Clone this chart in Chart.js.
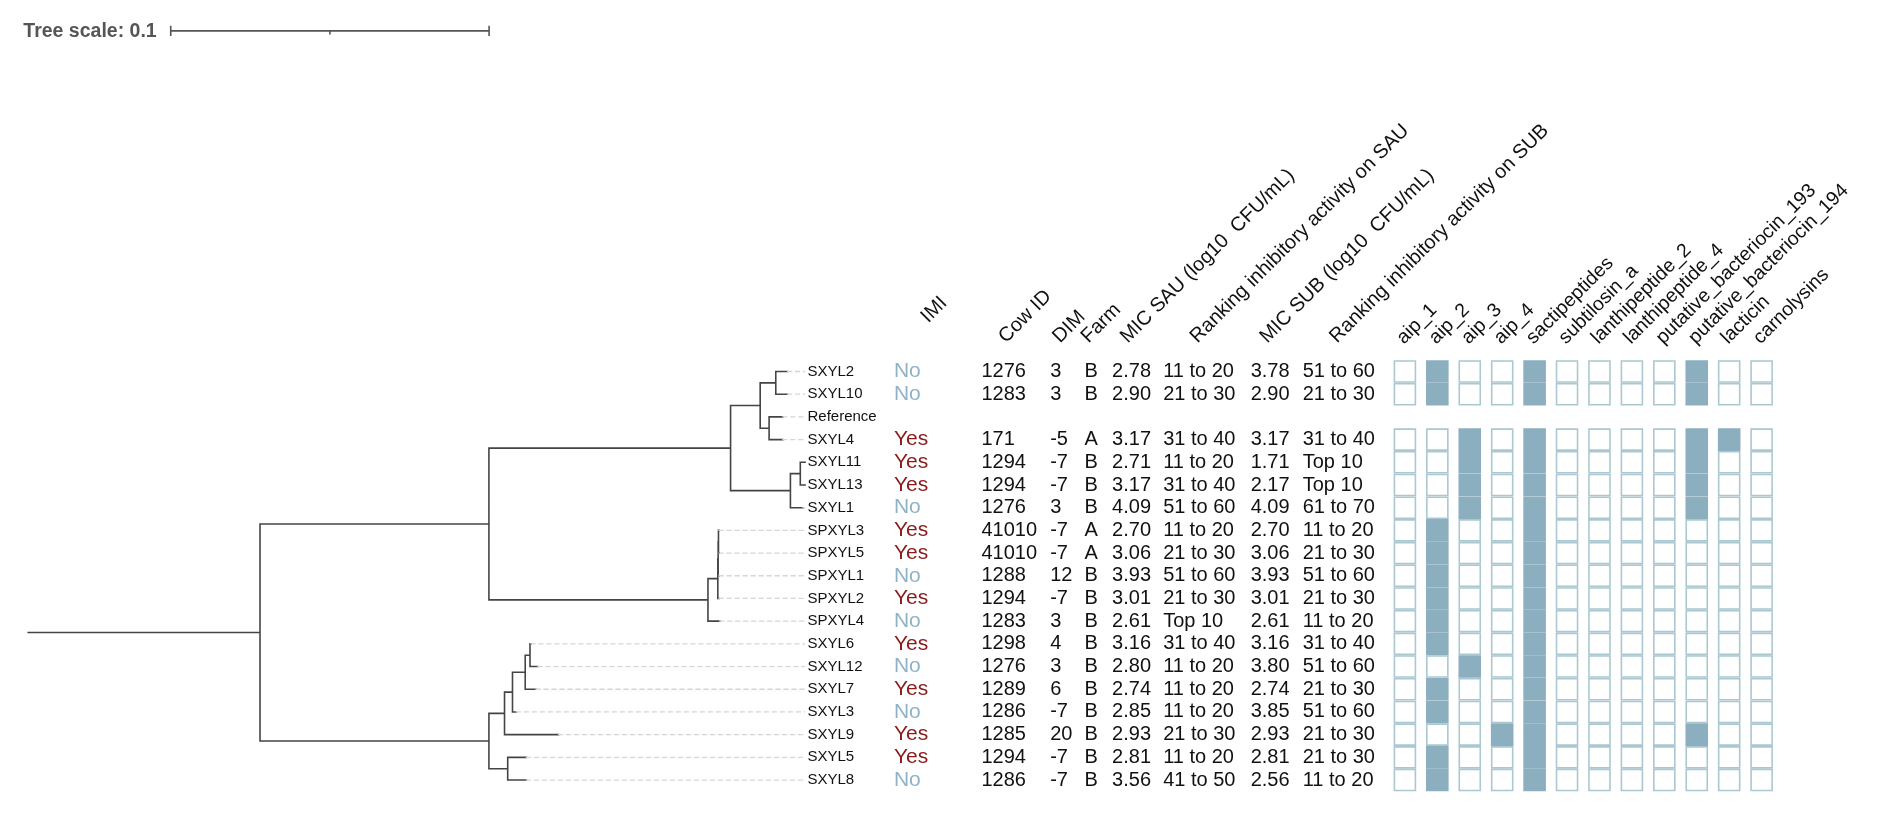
<!DOCTYPE html>
<html><head><meta charset="utf-8">
<script src="https://cdn.jsdelivr.net/npm/chart.js@4.4.0/dist/chart.umd.min.js"></script>
<style>html,body{margin:0;padding:0;background:#fff;overflow:hidden}canvas{display:block}</style>
</head><body>
<canvas id="c" width="1894" height="815"></canvas>
<script>
// ---------------- DATA ----------------
const treeNewick = "(((((SXYL2:0.0037,SXYL10:0.0037):0.0049,(Reference:0.0043,SXYL4:0.0043):0.0028):0.0093,((SXYL11:0.0015,SXYL13:0.0015):0.0031,SXYL1:0.0040):0.0188):0.0759,((((SPXYL3:0.0002,SPXYL5:0.0002):0.0001,SPXYL1:0.0003):0.0001,SPXYL2:0.0004):0.0031,SPXYL4:0.0037):0.0688):0.0719,(((((SXYL6:0.0003,SXYL12:0.0025):0.0015,SXYL7:0.0034):0.0040,SXYL3:0.0012):0.0025,SXYL9:0.0170):0.0049,(SXYL5:0.0059,SXYL8:0.0059):0.0059):0.0719):0.0728;";
const treeScaleValue = 0.1;
const treeScaleLabel = "Tree scale: 0.1";

const leafNames = ["SXYL2","SXYL10","Reference","SXYL4","SXYL11","SXYL13","SXYL1","SPXYL3","SPXYL5","SPXYL1","SPXYL2","SPXYL4","SXYL6","SXYL12","SXYL7","SXYL3","SXYL9","SXYL5","SXYL8"];
const imi     = ["No","No","","Yes","Yes","Yes","No","Yes","Yes","No","Yes","No","Yes","No","Yes","No","Yes","Yes","No"];
const cowId   = ["1276","1283","","171","1294","1294","1276","41010","41010","1288","1294","1283","1298","1276","1289","1286","1285","1294","1286"];
const dim     = ["3","3","","-5","-7","-7","3","-7","-7","12","-7","3","4","3","6","-7","20","-7","-7"];
const farm    = ["B","B","","A","B","B","B","A","A","B","B","B","B","B","B","B","B","B","B"];
const micSau  = ["2.78","2.90","","3.17","2.71","3.17","4.09","2.70","3.06","3.93","3.01","2.61","3.16","2.80","2.74","2.85","2.93","2.81","3.56"];
const rankSau = ["11 to 20","21 to 30","","31 to 40","11 to 20","31 to 40","51 to 60","11 to 20","21 to 30","51 to 60","21 to 30","Top 10","31 to 40","11 to 20","11 to 20","11 to 20","21 to 30","11 to 20","41 to 50"];
const micSub  = ["3.78","2.90","","3.17","1.71","2.17","4.09","2.70","3.06","3.93","3.01","2.61","3.16","3.80","2.74","3.85","2.93","2.81","2.56"];
const rankSub = ["51 to 60","21 to 30","","31 to 40","Top 10","Top 10","61 to 70","11 to 20","21 to 30","51 to 60","21 to 30","11 to 20","31 to 40","51 to 60","21 to 30","51 to 60","21 to 30","21 to 30","11 to 20"];
const tableHeaders = ["IMI","Cow ID","DIM","Farm","MIC SAU (log10  CFU/mL)","Ranking inhibitory activity on SAU","MIC SUB (log10  CFU/mL)","Ranking inhibitory activity on SUB"];
const geneNames = ["aip_1","aip_2","aip_3","aip_4","sactipeptides","subtilosin_a","lanthipeptide_2","lanthipeptide_4","putative_bacteriocin_193","putative_bacteriocin_194","lacticin","carnolysins"];
const genePresence = [
  [0,1,0,0,1,0,0,0,0,1,0,0],
  [0,1,0,0,1,0,0,0,0,1,0,0],
  null,
  [0,0,1,0,1,0,0,0,0,1,1,0],
  [0,0,1,0,1,0,0,0,0,1,0,0],
  [0,0,1,0,1,0,0,0,0,1,0,0],
  [0,0,1,0,1,0,0,0,0,1,0,0],
  [0,1,0,0,1,0,0,0,0,0,0,0],
  [0,1,0,0,1,0,0,0,0,0,0,0],
  [0,1,0,0,1,0,0,0,0,0,0,0],
  [0,1,0,0,1,0,0,0,0,0,0,0],
  [0,1,0,0,1,0,0,0,0,0,0,0],
  [0,1,0,0,1,0,0,0,0,0,0,0],
  [0,0,1,0,1,0,0,0,0,0,0,0],
  [0,1,0,0,1,0,0,0,0,0,0,0],
  [0,1,0,0,1,0,0,0,0,0,0,0],
  [0,0,0,1,1,0,0,0,0,1,0,0],
  [0,1,0,0,1,0,0,0,0,0,0,0],
  [0,1,0,0,1,0,0,0,0,0,0,0]
];

// ---------------- LAYOUT (positions/styles) ----------------
const W = 1894, H = 815;
const rowY0 = 370, rowStep = 23.65;
const treeX0 = 12, treePx = 3240;
const heatX0 = 1413, heatStep = 33;
const alignUnits = (802 - treeX0) / treePx;
const FONT = '"Liberation Sans", Arial, sans-serif';
const colX = {label:805, imi:893, cow:982, dim:1052, farm:1087, micSau:1115, rankSau:1167, micSub:1256, rankSub:1309};
const headerAnchors = [[928,320],[1007,341],[1062,341],[1091,341],[1131,341],[1202,341],[1273,341],[1344,341]];
const pxToRow = p => (p - rowY0) / rowStep;
const pxToTree = p => (p - treeX0) / treePx;

// ---------------- TREE PARSE / LAYOUT ----------------
function parseNewick(s){
  let i = 0;
  function node(){
    const n = {children:[], name:'', len:0};
    if (s[i] === '('){
      i++; n.children.push(node());
      while (s[i] === ','){ i++; n.children.push(node()); }
      i++;
    }
    let name=''; while (i < s.length && !',():;'.includes(s[i])) name += s[i++];
    n.name = name.trim();
    if (s[i] === ':'){ i++; let num=''; while (i < s.length && !',();'.includes(s[i])) num += s[i++]; n.len = parseFloat(num); }
    return n;
  }
  return node();
}
const root = parseNewick(treeNewick);
function layout(n, d){
  n.x = d + n.len;
  if (n.children.length){
    n.children.forEach(c => layout(c, n.x));
    n.y = (n.children[0].y + n.children[n.children.length-1].y) / 2;
  } else {
    n.y = leafNames.indexOf(n.name);
  }
}
layout(root, 0);
const solid = [], dashed = [];
const GAP = {x:null, y:null};
function segs(n, parent){
  if (parent) solid.push({x:parent.x, y:n.y}, {x:n.x, y:n.y}, GAP);
  else solid.push({x:0, y:n.y}, {x:n.x, y:n.y}, GAP);
  if (n.children.length){
    solid.push({x:n.x, y:n.children[0].y}, {x:n.x, y:n.children[n.children.length-1].y}, GAP);
    n.children.forEach(c => segs(c, n));
  } else if (n.x < alignUnits - 0.0003){
    dashed.push({x:n.x, y:n.y}, {x:alignUnits, y:n.y}, GAP);
  }
}
segs(root, null);

// scale bar
const barStart = pxToTree(157);
const barY = pxToRow(15);
const scaleBar = [
  {x:barStart, y:barY}, {x:barStart+treeScaleValue, y:barY}, GAP,
  {x:barStart, y:pxToRow(10.5)}, {x:barStart, y:pxToRow(19.5)}, GAP,
  {x:barStart+treeScaleValue, y:pxToRow(10.5)}, {x:barStart+treeScaleValue, y:pxToRow(19.5)}, GAP,
  {x:barStart+treeScaleValue/2, y:barY}, {x:barStart+treeScaleValue/2, y:pxToRow(18)}
];

// heatmap points
const filled = [], empty = [];
genePresence.forEach((row, i) => {
  if (!row) return;
  row.forEach((v, j) => (v ? filled : empty).push({x:j, y:i}));
});

// ---------------- TEXT PLUGIN ----------------
const textPlugin = {
  id: 'texts',
  afterDatasetsDraw(chart){
    const ctx = chart.ctx, ys = chart.scales.y, xs = chart.scales.x, xh = chart.scales.xh;
    ctx.save();
    ctx.fillStyle = '#555';
    ctx.font = 'bold 19.5px ' + FONT;
    ctx.textBaseline = 'middle'; ctx.textAlign = 'left';
    ctx.fillText(treeScaleLabel, xs.getPixelForValue(7), ys.getPixelForValue(pxToRow(16)));
    ctx.fillStyle = '#111';
    ctx.font = '15px ' + FONT;
    leafNames.forEach((n, i) => ctx.fillText(n, xs.getPixelForValue(colX.label), ys.getPixelForValue(i)));
    ctx.font = '21px ' + FONT;
    imi.forEach((v, i) => {
      if (!v) return;
      ctx.fillStyle = v === 'Yes' ? '#8b1a1a' : '#8fb3c6';
      ctx.fillText(v, xs.getPixelForValue(colX.imi), ys.getPixelForValue(i));
    });
    ctx.fillStyle = '#111';
    ctx.font = '20px ' + FONT;
    const cols = [[cowId,colX.cow],[dim,colX.dim],[farm,colX.farm],[micSau,colX.micSau],[rankSau,colX.rankSau],[micSub,colX.micSub],[rankSub,colX.rankSub]];
    cols.forEach(([arr, x]) => arr.forEach((v, i) => { if (v) ctx.fillText(v, xs.getPixelForValue(x), ys.getPixelForValue(i)); }));
    ctx.textBaseline = 'alphabetic';
    ctx.font = '20px ' + FONT;
    tableHeaders.forEach((h, k) => {
      const [ax, ay] = headerAnchors[k];
      ctx.save();
      ctx.translate(xs.getPixelForValue(ax), ys.getPixelForValue(pxToRow(ay)));
      ctx.rotate(-Math.PI/4);
      ctx.fillText(h, 0, 0);
      ctx.restore();
    });
    ctx.font = '19.5px ' + FONT;
    geneNames.forEach((g, j) => {
      ctx.save();
      ctx.translate(xh.getPixelForValue(j) - 1, ys.getPixelForValue(pxToRow(342)));
      ctx.rotate(-Math.PI/4);
      ctx.fillText(g, 0, 0);
      ctx.restore();
    });
    ctx.restore();
  }
};

// ---------------- CHART ----------------
const lineDs = (data, color, width, dash) => ({
  type:'scatter', data, showLine:true, spanGaps:false, borderColor:color, borderWidth:width,
  borderDash:dash||[], pointRadius:0, pointHoverRadius:0, xAxisID:'xt', yAxisID:'y', borderCapStyle:'square', borderJoinStyle:'miter'
});
new Chart(document.getElementById('c'), {
  type: 'scatter',
  data: {
    datasets: [
      lineDs(dashed, '#d6d6d6', 1.3, [4,4]),
      lineDs(solid, '#444', 1.6),
      lineDs(scaleBar, '#555', 1.6),
      {type:'scatter', data: empty, xAxisID:'xh', yAxisID:'y', pointStyle:'rect', pointRadius:14.85, pointHoverRadius:14.85,
       backgroundColor:'#ffffff', borderColor:'#abc8d1', borderWidth:1.6},
      {type:'scatter', data: filled, xAxisID:'xh', yAxisID:'y', pointStyle:'rect', pointRadius:14.85, pointHoverRadius:14.85,
       backgroundColor:'#8cafc0', borderColor:'#8cafc0', borderWidth:1.6}
    ]
  },
  options: {
    responsive:false, animation:false, devicePixelRatio:1, events:[],
    layout:{padding:0},
    plugins:{legend:{display:false}, tooltip:{enabled:false}, title:{display:false}},
    scales:{
      x:{type:'linear', display:false, min:0, max:W},
      xt:{type:'linear', display:false, min:-treeX0/treePx, max:(W-treeX0)/treePx},
      xh:{type:'linear', display:false, min:-heatX0/heatStep, max:(W-heatX0)/heatStep},
      y:{type:'linear', display:false, reverse:true, min:-rowY0/rowStep, max:(H-rowY0)/rowStep}
    }
  },
  plugins:[textPlugin]
});
</script>
</body></html>
